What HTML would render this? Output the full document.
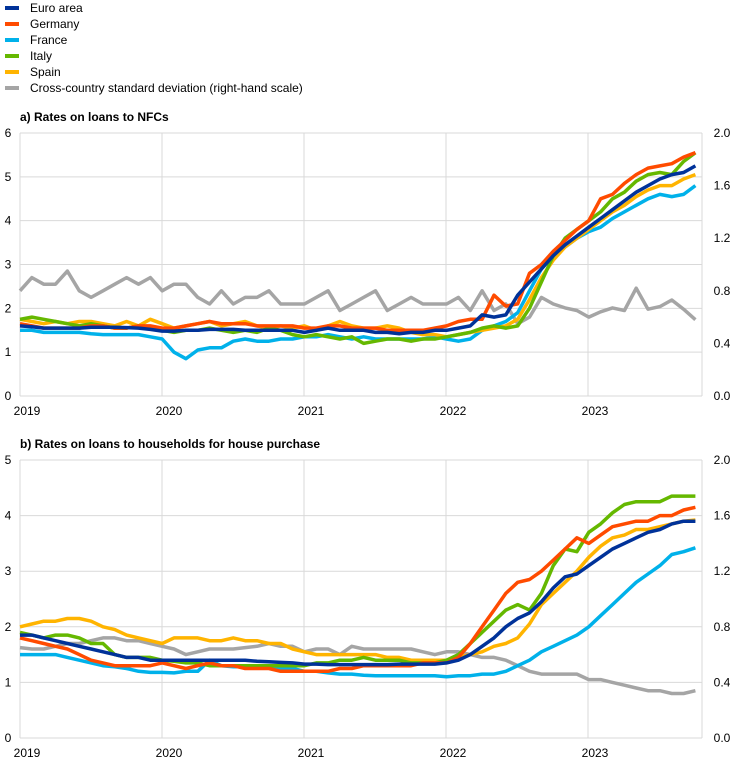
<!DOCTYPE html>
<html><head><meta charset="utf-8"><style>
body{margin:0;background:#fff;}
svg{font-family:"Liberation Sans",Arial,sans-serif;}
</style></head><body>
<svg id="s" width="744" height="765" xmlns="http://www.w3.org/2000/svg"></svg>
<script>
const S=document.getElementById('s');
let h='';
const C={eu:'#003299',de:'#FF4B00',fr:'#00B1EA',it:'#65B800',es:'#FFB400',gr:'#A5A5A5'};
const leg=[['Euro area',C.eu],['Germany',C.de],['France',C.fr],['Italy',C.it],['Spain',C.es],['Cross-country standard deviation (right-hand scale)',C.gr]];
leg.forEach((l,i)=>{const y=8+i*16;h+=`<rect x="5" y="${y-2}" width="14" height="4" fill="${l[1]}"/><text x="30" y="${y+4}" font-size="12" fill="#000">${l[0]}</text>`;});
const X0=20,X1=702,DX=11.85;
function panel(top,bot,maxL,title,series,gray){
  h+=`<text x="20" y="${top-12}" font-size="12" font-weight="bold">${title}</text>`;
  const sc=(bot-top)/maxL;
  for(let v=0;v<=maxL;v++){const y=bot-v*sc;h+=`<line x1="${X0}" x2="${X1}" y1="${y}" y2="${y}" stroke="#d9d9d9"/>`;h+=`<text x="8" y="${y+4}" font-size="12" text-anchor="middle">${v}</text>`;}
  for(let k=0;k<=5;k++){const r=k*0.4;const y=bot-r/2*(bot-top);h+=`<text x="722" y="${y+4}" font-size="12" text-anchor="middle">${r.toFixed(1)}</text>`;}
  for(let k=0;k<5;k++){const x=X0+k*142;h+=`<line x1="${x}" x2="${x}" y1="${top}" y2="${bot}" stroke="#d9d9d9"/>`;h+=`<text x="${x+7}" y="${bot+19}" font-size="12" text-anchor="middle">${2019+k}</text>`;}
  h+=`<line x1="${X1}" x2="${X1}" y1="${top}" y2="${bot}" stroke="#d9d9d9"/>`;
  const path=(arr,f,col)=>{let d=arr.map((v,i)=>(i?'L':'M')+(X0+i*DX).toFixed(1)+','+(bot-f(v)*sc).toFixed(1)).join('');h+=`<path d="${d}" fill="none" stroke="${col}" stroke-width="3.5" stroke-linejoin="round"/>`;};
  path(gray,v=>v*maxL/2,C.gr);
  ['fr','es','it','de','eu'].forEach(k=>path(series[k],v=>v,C[k]));
}
const a={
de:[1.65,1.65,1.65,1.6,1.55,1.55,1.55,1.55,1.6,1.6,1.55,1.55,1.6,1.6,1.55,1.55,1.6,1.65,1.7,1.65,1.65,1.65,1.6,1.6,1.6,1.6,1.55,1.55,1.6,1.6,1.55,1.55,1.55,1.5,1.5,1.5,1.5,1.55,1.6,1.7,1.75,1.75,2.3,2.05,2.1,2.8,3.0,3.3,3.55,3.8,4.0,4.5,4.6,4.85,5.05,5.2,5.25,5.3,5.45,5.55].slice(2,60),
fr:[1.45,1.5,1.5,1.5,1.45,1.45,1.45,1.45,1.42,1.4,1.4,1.4,1.4,1.35,1.3,1.0,0.85,1.05,1.1,1.1,1.25,1.3,1.25,1.25,1.3,1.3,1.35,1.35,1.4,1.35,1.3,1.35,1.3,1.3,1.3,1.3,1.3,1.35,1.3,1.25,1.3,1.5,1.6,1.7,1.9,2.4,2.9,3.2,3.4,3.6,3.75,3.85,4.05,4.2,4.35,4.5,4.6,4.55,4.6,4.8].slice(2,60),
it:[1.75,1.8,1.75,1.8,1.75,1.7,1.65,1.6,1.65,1.6,1.55,1.55,1.6,1.55,1.5,1.45,1.5,1.5,1.55,1.5,1.45,1.5,1.45,1.55,1.5,1.4,1.35,1.4,1.35,1.3,1.35,1.2,1.25,1.3,1.3,1.25,1.3,1.3,1.35,1.4,1.45,1.55,1.6,1.55,1.6,2.0,2.6,3.2,3.6,3.8,4.0,4.2,4.5,4.65,4.9,5.05,5.1,5.05,5.35,5.55].slice(2,60),
es:[1.7,1.75,1.75,1.7,1.65,1.7,1.65,1.7,1.7,1.65,1.6,1.7,1.6,1.75,1.65,1.55,1.6,1.65,1.7,1.6,1.65,1.7,1.6,1.55,1.6,1.55,1.6,1.5,1.6,1.7,1.6,1.55,1.55,1.6,1.55,1.45,1.4,1.4,1.35,1.4,1.45,1.5,1.55,1.6,1.75,2.2,2.7,3.1,3.4,3.6,3.8,4.0,4.2,4.35,4.55,4.7,4.8,4.8,4.95,5.05].slice(2,60),
eu:[1.6,1.6,1.6,1.58,1.55,1.55,1.55,1.55,1.57,1.57,1.57,1.56,1.55,1.52,1.48,1.48,1.5,1.5,1.52,1.52,1.52,1.5,1.5,1.5,1.5,1.5,1.45,1.5,1.55,1.5,1.5,1.5,1.45,1.45,1.42,1.45,1.45,1.5,1.5,1.55,1.6,1.85,1.8,1.85,2.3,2.6,2.9,3.2,3.45,3.65,3.85,4.05,4.25,4.45,4.65,4.8,4.95,5.05,5.1,5.25].slice(2,60)
};
const ag=[0.8,0.9,0.85,0.85,0.95,0.8,0.75,0.8,0.85,0.9,0.85,0.9,0.8,0.85,0.85,0.75,0.7,0.8,0.7,0.75,0.75,0.8,0.7,0.7,0.7,0.75,0.8,0.65,0.7,0.75,0.8,0.65,0.7,0.75,0.7,0.7,0.7,0.75,0.65,0.8,0.65,0.7,0.55,0.6,0.75,0.7,0.67,0.65,0.6,0.64,0.67,0.65,0.82,0.66,0.68,0.73,0.66,0.58];
panel(133,396,6,'a) Rates on loans to NFCs',a,ag);
const b={
eu:[1.85,1.85,1.8,1.75,1.7,1.65,1.6,1.55,1.5,1.45,1.45,1.4,1.4,1.4,1.4,1.4,1.4,1.4,1.4,1.4,1.38,1.37,1.36,1.35,1.33,1.33,1.32,1.32,1.32,1.32,1.32,1.32,1.33,1.33,1.33,1.33,1.35,1.4,1.5,1.65,1.8,2.0,2.15,2.25,2.45,2.7,2.9,2.95,3.1,3.25,3.4,3.5,3.6,3.7,3.75,3.85,3.9,3.9],
de:[1.8,1.75,1.7,1.65,1.6,1.5,1.4,1.35,1.3,1.3,1.3,1.3,1.35,1.3,1.25,1.3,1.35,1.3,1.3,1.25,1.25,1.25,1.2,1.2,1.2,1.2,1.2,1.25,1.25,1.3,1.3,1.3,1.3,1.3,1.35,1.35,1.35,1.45,1.7,2.0,2.3,2.6,2.8,2.85,3.0,3.2,3.4,3.6,3.5,3.65,3.8,3.85,3.9,3.9,4.0,4.0,4.1,4.15],
fr:[1.5,1.5,1.5,1.5,1.45,1.4,1.35,1.3,1.28,1.25,1.2,1.18,1.18,1.17,1.2,1.2,1.4,1.3,1.28,1.28,1.28,1.27,1.26,1.25,1.2,1.2,1.17,1.15,1.15,1.13,1.12,1.12,1.12,1.12,1.12,1.12,1.1,1.12,1.12,1.15,1.15,1.2,1.3,1.4,1.55,1.65,1.75,1.85,2.0,2.2,2.4,2.6,2.8,2.95,3.1,3.3,3.35,3.42],
it:[1.9,1.85,1.8,1.85,1.85,1.8,1.7,1.7,1.5,1.45,1.45,1.45,1.4,1.38,1.35,1.35,1.3,1.3,1.3,1.3,1.3,1.3,1.3,1.3,1.3,1.35,1.35,1.4,1.4,1.45,1.4,1.4,1.4,1.35,1.35,1.35,1.4,1.5,1.7,1.9,2.1,2.3,2.4,2.3,2.6,3.1,3.4,3.35,3.7,3.85,4.05,4.2,4.25,4.25,4.25,4.35,4.35,4.35],
es:[2.0,2.05,2.1,2.1,2.15,2.15,2.1,2.0,1.95,1.85,1.8,1.75,1.7,1.8,1.8,1.8,1.75,1.75,1.8,1.75,1.75,1.7,1.7,1.6,1.55,1.5,1.5,1.5,1.5,1.5,1.5,1.45,1.45,1.4,1.4,1.4,1.4,1.45,1.5,1.55,1.65,1.7,1.8,2.05,2.4,2.6,2.8,3.0,3.25,3.45,3.6,3.65,3.75,3.75,3.8,3.85,3.9,3.92]
};
const bg=[0.65,0.64,0.64,0.66,0.68,0.68,0.7,0.72,0.72,0.7,0.7,0.68,0.66,0.64,0.6,0.62,0.64,0.64,0.64,0.65,0.66,0.68,0.66,0.66,0.62,0.64,0.64,0.6,0.66,0.64,0.64,0.64,0.64,0.64,0.62,0.6,0.62,0.62,0.6,0.58,0.58,0.56,0.52,0.48,0.46,0.46,0.46,0.46,0.42,0.42,0.4,0.38,0.36,0.34,0.34,0.32,0.32,0.34];
panel(460,738,5,'b) Rates on loans to households for house purchase',b,bg);
S.innerHTML=h;
</script>
</body></html>
